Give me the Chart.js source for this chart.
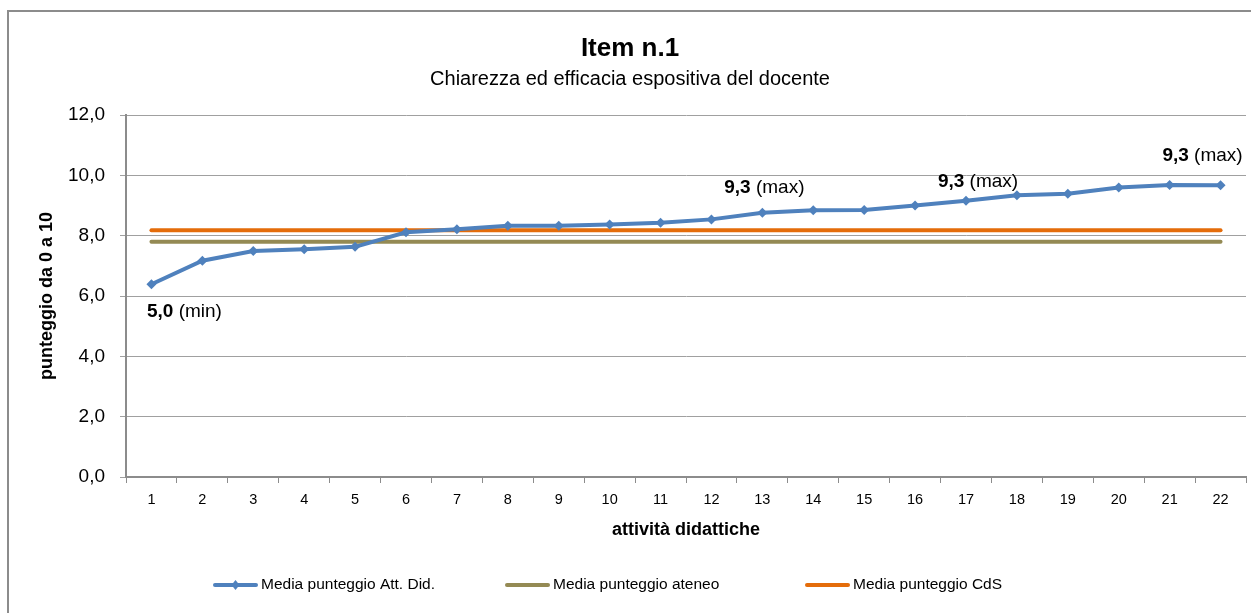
<!DOCTYPE html>
<html>
<head>
<meta charset="utf-8">
<script src="https://cdn.jsdelivr.net/npm/chart.js@4/dist/chart.umd.min.js"></script>
<style>
  html, body { margin: 0; padding: 0; background: #fff; }
  canvas { display: block; }
</style>
</head>
<body>
<canvas id="c" width="1251" height="613"></canvas>
<script>
// data
const categories = ['1','2','3','4','5','6','7','8','9','10','11','12','13','14','15','16','17','18','19','20','21','22'];
const mediaAttDid = [6.39, 7.17, 7.49, 7.55, 7.63, 8.11, 8.21, 8.33, 8.33, 8.37, 8.43, 8.54, 8.76, 8.84, 8.85, 9.00, 9.16, 9.34, 9.39, 9.60, 9.68, 9.67];
const mediaAteneo = [7.80, 7.80, 7.80, 7.80, 7.80, 7.80, 7.80, 7.80, 7.80, 7.80, 7.80, 7.80, 7.80, 7.80, 7.80, 7.80, 7.80, 7.80, 7.80, 7.80, 7.80, 7.80];
const mediaCdS = [8.18, 8.18, 8.18, 8.18, 8.18, 8.18, 8.18, 8.18, 8.18, 8.18, 8.18, 8.18, 8.18, 8.18, 8.18, 8.18, 8.18, 8.18, 8.18, 8.18, 8.18, 8.18];
const yTickLabels = ['0,0', '2,0', '4,0', '6,0', '8,0', '10,0', '12,0'];
const annotIndex = [0, 12, 16, 21];
const annotValue = ['5,0', '9,3', '9,3', '9,3'];
const annotText = [' (min)', ' (max)', ' (max)', ' (max)'];

const FONT = "'Liberation Sans', Arial, sans-serif";
const BLUE = '#4F81BD';
const OLIVE = '#948A54';
const ORANGE = '#E46C0A';

// outer chart border (top and left only are visible)
const borderPlugin = {
  id: 'outerBorder',
  beforeDraw(chart) {
    const ctx = chart.ctx;
    ctx.save();
    ctx.strokeStyle = '#8C8C8C';
    ctx.lineWidth = 2;
    ctx.beginPath();
    ctx.moveTo(8, 613); ctx.lineTo(8, 11); ctx.lineTo(1251, 11);
    ctx.stroke();
    ctx.restore();
  }
};

// min / max notes next to the points
const notesPlugin = {
  id: 'notes',
  afterDatasetsDraw(chart) {
    const ctx = chart.ctx;
    const xs = chart.scales.x, ys = chart.scales.y;
    const offs = [[33, 28], [2, -25], [12, -19], [-18, -30]];
    const fb = 'bold 19px ' + FONT, fn = '19px ' + FONT;
    ctx.save();
    ctx.fillStyle = '#000';
    ctx.textBaseline = 'middle';
    ctx.textAlign = 'left';
    annotIndex.forEach((idx, k) => {
      const px = xs.getPixelForValue(idx) + offs[k][0];
      const py = ys.getPixelForValue(mediaAttDid[idx]) + offs[k][1];
      ctx.font = fb;
      const w1 = ctx.measureText(annotValue[k]).width;
      ctx.font = fn;
      const w2 = ctx.measureText(annotText[k]).width;
      const x0 = px - (w1 + w2) / 2;
      ctx.font = fb;
      ctx.fillText(annotValue[k], x0, py);
      ctx.font = fn;
      ctx.fillText(annotText[k], x0 + w1, py);
    });
    ctx.restore();
  }
};

// legend drawn by hand: line + marker, text right after, wide gaps
const legendPlugin = {
  id: 'ownLegend',
  afterDraw(chart) {
    const ctx = chart.ctx;
    const ds = chart.data.datasets;
    const lineW = 45, gapText = 3, y = 585;
    const starts = [213, 505, 805];
    ctx.save();
    ctx.font = '15.5px ' + FONT;
    ds.forEach((d, i) => {
      const x = starts[i];
      ctx.strokeStyle = d.borderColor;
      ctx.lineWidth = 4;
      ctx.lineCap = 'round';
      ctx.beginPath(); ctx.moveTo(x + 2, y); ctx.lineTo(x + lineW - 2, y); ctx.stroke();
      if (d.pointRadius > 0) {
        const cx = x + lineW / 2;
        ctx.fillStyle = d.borderColor;
        ctx.beginPath(); ctx.moveTo(cx, y - 5); ctx.lineTo(cx + 4, y); ctx.lineTo(cx, y + 5); ctx.lineTo(cx - 4, y); ctx.closePath(); ctx.fill();
      }
      ctx.fillStyle = '#000';
      ctx.textBaseline = 'middle';
      ctx.textAlign = 'left';
      ctx.fillText(d.label, x + lineW + gapText, y);
    });
    ctx.restore();
  }
};

new Chart(document.getElementById('c'), {
  type: 'line',
  data: {
    labels: categories,
    datasets: [{
      label: 'Media punteggio Att. Did.',
      data: mediaAttDid,
      borderColor: BLUE,
      backgroundColor: BLUE,
      borderWidth: 4,
      pointStyle: 'rectRot',
      pointRadius: 5,
      pointBorderWidth: 0,
      pointBackgroundColor: BLUE,
      tension: 0
    }, {
      label: 'Media punteggio ateneo',
      data: mediaAteneo,
      borderColor: OLIVE,
      backgroundColor: OLIVE,
      borderWidth: 4,
      borderCapStyle: 'round',
      pointRadius: 0
    }, {
      label: 'Media punteggio CdS',
      data: mediaCdS,
      borderColor: ORANGE,
      backgroundColor: ORANGE,
      borderWidth: 4,
      borderCapStyle: 'round',
      pointRadius: 0
    }]
  },
  options: {
    responsive: false,
    animation: false,
    layout: { padding: { left: 10, right: 1, top: 11, bottom: 46 } },
    plugins: {
      title: {
        display: true,
        text: 'Item n.1',
        color: '#000',
        font: { family: FONT, size: 26, weight: 'bold', lineHeight: 1.0 },
        padding: { top: 25, bottom: 0 }
      },
      subtitle: {
        display: true,
        text: 'Chiarezza ed efficacia espositiva del docente',
        color: '#000',
        font: { family: FONT, size: 20, lineHeight: 1.0 },
        padding: { top: 7, bottom: 26 }
      },
      legend: { display: false },
      tooltip: { enabled: false }
    },
    scales: {
      x: {
        offset: true,
        grid: { offset: true, drawOnChartArea: false, drawTicks: true, tickLength: 6, color: '#8C8C8C', lineWidth: 1 },
        border: { color: '#8C8C8C', width: 2 },
        ticks: { color: '#000', font: { family: FONT, size: 14.5 }, padding: 8, maxRotation: 0, autoSkip: false },
        title: {
          display: true,
          text: 'attività didattiche',
          color: '#000',
          font: { family: FONT, size: 18, weight: 'bold', lineHeight: 1.2 },
          padding: { bottom: 26 }
        },
        afterFit(scale) { scale.height = 90; }
      },
      y: {
        min: 0,
        max: 12,
        grid: { color: '#A0A0A0', lineWidth: 1, tickLength: 6 },
        border: { color: '#8C8C8C', width: 2 },
        ticks: {
          stepSize: 2,
          color: '#000',
          font: { family: FONT, size: 19 },
          padding: 15,
          callback: (v) => yTickLabels[v / 2]
        },
        title: {
          display: true,
          text: 'punteggio da 0 a 10',
          color: '#000',
          font: { family: FONT, size: 18, weight: 'bold', lineHeight: 1.2 },
          padding: { top: 26 }
        },
        afterFit(scale) { scale.width = 116; }
      }
    }
  },
  plugins: [borderPlugin, notesPlugin, legendPlugin]
});
</script>
</body>
</html>
